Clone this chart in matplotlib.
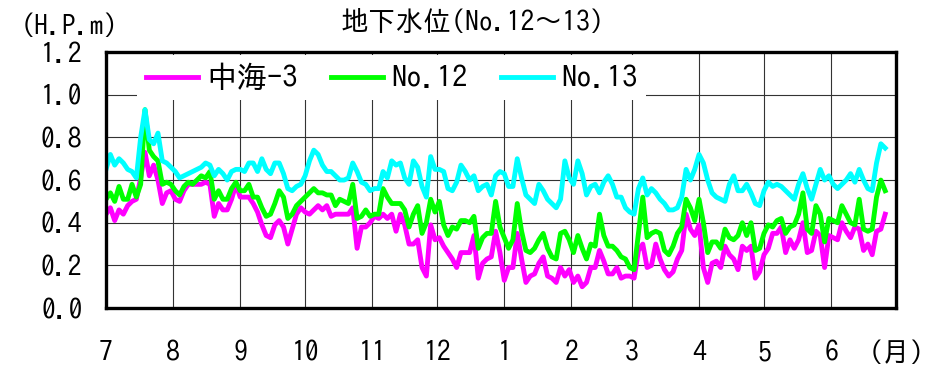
import numpy as np
import matplotlib
matplotlib.use('Agg')
import matplotlib.pyplot as plt

plt.rcParams['font.family'] = ['IPAGothic', 'Noto Sans CJK JP', 'DejaVu Sans']

# observation every 2 days, starting 1 July
step_days = 2
month_lengths = [31, 31, 30, 31, 30, 31, 31, 28, 31, 30, 31, 30]
month_labels = ['7', '8', '9', '10', '11', '12', '1', '2', '3', '4', '5', '6', '(月)']

series_names = ['中海-3', 'No.12', 'No.13']
series_colors = ['#ff00ff', '#00ff00', '#00ffff']

nakaumi3 = [
    0.44, 0.47, 0.41, 0.46, 0.44, 0.48, 0.50, 0.51, 0.61, 0.73, 0.62, 0.67, 0.60, 0.49,
    0.54, 0.55, 0.51, 0.50, 0.55, 0.58, 0.58, 0.58, 0.58, 0.59, 0.58, 0.43, 0.49,
    0.46, 0.46, 0.51, 0.58, 0.52, 0.52, 0.52, 0.49, 0.45, 0.39, 0.34, 0.33, 0.39, 0.41,
    0.38, 0.30, 0.37, 0.44, 0.47, 0.45, 0.44, 0.46, 0.48, 0.46, 0.48, 0.43, 0.44,
    0.44, 0.44, 0.44, 0.47, 0.28, 0.38, 0.38, 0.40, 0.43, 0.42, 0.44, 0.42, 0.44, 0.36,
    0.44, 0.39, 0.30, 0.30, 0.32, 0.19, 0.15, 0.39, 0.32, 0.33, 0.29, 0.26,
    0.23, 0.19, 0.26, 0.26, 0.26, 0.34, 0.14, 0.21, 0.23, 0.24, 0.36, 0.26, 0.13, 0.19,
    0.19, 0.35, 0.23, 0.12, 0.15, 0.16, 0.21, 0.24, 0.15, 0.14, 0.12, 0.19,
    0.15, 0.18, 0.12, 0.15, 0.10, 0.12, 0.19, 0.19, 0.27, 0.22, 0.16, 0.16, 0.19, 0.14,
    0.15, 0.15, 0.14, 0.27, 0.30, 0.19, 0.20, 0.30, 0.23, 0.18, 0.15, 0.17, 0.23,
    0.27, 0.44, 0.37, 0.34, 0.39, 0.19, 0.12, 0.21, 0.22, 0.19, 0.29, 0.25, 0.23, 0.18,
    0.29, 0.27, 0.29, 0.14, 0.17, 0.25, 0.28, 0.35, 0.35, 0.38, 0.26, 0.32,
    0.28, 0.32, 0.40, 0.26, 0.27, 0.36, 0.34, 0.19, 0.34, 0.33, 0.32, 0.40, 0.36, 0.33,
    0.38, 0.37, 0.27, 0.30, 0.25, 0.36, 0.37, 0.44,
]

no12 = [
    0.51, 0.54, 0.50, 0.57, 0.51, 0.51, 0.58, 0.52, 0.58, 0.93, 0.74, 0.71, 0.69, 0.58,
    0.59, 0.58, 0.55, 0.53, 0.57, 0.59, 0.58, 0.60, 0.62, 0.61, 0.64, 0.51, 0.55,
    0.51, 0.51, 0.56, 0.59, 0.55, 0.55, 0.58, 0.52, 0.52, 0.47, 0.43, 0.44, 0.49, 0.55,
    0.52, 0.42, 0.44, 0.48, 0.50, 0.52, 0.54, 0.56, 0.54, 0.54, 0.53, 0.53, 0.48,
    0.51, 0.50, 0.49, 0.58, 0.42, 0.43, 0.46, 0.43, 0.44, 0.44, 0.56, 0.52, 0.49, 0.49,
    0.49, 0.46, 0.38, 0.44, 0.48, 0.35, 0.40, 0.51, 0.45, 0.50, 0.39, 0.34,
    0.38, 0.37, 0.41, 0.41, 0.40, 0.43, 0.28, 0.33, 0.35, 0.35, 0.50, 0.38, 0.33, 0.28,
    0.32, 0.49, 0.36, 0.27, 0.26, 0.28, 0.32, 0.35, 0.28, 0.24, 0.23, 0.35,
    0.36, 0.32, 0.26, 0.34, 0.28, 0.23, 0.30, 0.29, 0.44, 0.34, 0.29, 0.29, 0.27, 0.24,
    0.23, 0.19, 0.18, 0.35, 0.52, 0.33, 0.35, 0.36, 0.35, 0.27, 0.25, 0.29, 0.35,
    0.38, 0.51, 0.47, 0.41, 0.51, 0.40, 0.26, 0.31, 0.31, 0.28, 0.37, 0.33, 0.32, 0.34,
    0.40, 0.34, 0.40, 0.27, 0.28, 0.35, 0.39, 0.38, 0.41, 0.42, 0.35, 0.38,
    0.39, 0.44, 0.54, 0.37, 0.35, 0.48, 0.44, 0.31, 0.42, 0.41, 0.40, 0.48, 0.44, 0.40,
    0.39, 0.51, 0.37, 0.36, 0.37, 0.52, 0.60, 0.55,
]

no13 = [
    0.65, 0.72, 0.67, 0.70, 0.68, 0.65, 0.64, 0.61, 0.80, 0.93, 0.79, 0.77, 0.82, 0.69,
    0.68, 0.66, 0.64, 0.61, 0.62, 0.63, 0.64, 0.65, 0.66, 0.68, 0.67, 0.62, 0.65,
    0.63, 0.60, 0.64, 0.65, 0.65, 0.64, 0.68, 0.68, 0.64, 0.70, 0.65, 0.63, 0.68, 0.68,
    0.63, 0.56, 0.55, 0.57, 0.58, 0.62, 0.69, 0.74, 0.72, 0.67, 0.64, 0.64, 0.62,
    0.60, 0.60, 0.61, 0.68, 0.64, 0.59, 0.58, 0.55, 0.56, 0.56, 0.64, 0.61, 0.69, 0.67,
    0.68, 0.61, 0.58, 0.69, 0.66, 0.57, 0.52, 0.71, 0.65, 0.65, 0.64, 0.56,
    0.55, 0.59, 0.67, 0.64, 0.60, 0.62, 0.55, 0.57, 0.58, 0.53, 0.62, 0.64, 0.63, 0.57,
    0.57, 0.70, 0.61, 0.53, 0.51, 0.49, 0.58, 0.55, 0.51, 0.49, 0.47, 0.51,
    0.69, 0.61, 0.58, 0.69, 0.63, 0.53, 0.57, 0.58, 0.54, 0.59, 0.62, 0.58, 0.52, 0.52,
    0.47, 0.45, 0.44, 0.56, 0.61, 0.53, 0.56, 0.54, 0.51, 0.49, 0.46, 0.46, 0.47,
    0.52, 0.65, 0.60, 0.65, 0.72, 0.68, 0.60, 0.54, 0.52, 0.51, 0.50, 0.58, 0.62, 0.55,
    0.55, 0.58, 0.54, 0.49, 0.48, 0.55, 0.59, 0.57, 0.58, 0.57, 0.55, 0.53,
    0.51, 0.58, 0.63, 0.56, 0.51, 0.58, 0.65, 0.60, 0.62, 0.58, 0.56, 0.58, 0.60, 0.63,
    0.59, 0.65, 0.60, 0.56, 0.55, 0.68, 0.77, 0.75,
]

days = np.arange(len(no13)) * step_days
month_starts = np.concatenate([[0], np.cumsum(month_lengths)])
levels = np.arange(0, 1.21, 0.2)

fig = plt.figure(figsize=(9.4, 3.65), dpi=100)
ax = fig.add_axes([0.1128, 0.156, 0.8404, 0.7014])

for values, name, color in zip([nakaumi3, no12, no13], series_names, series_colors):
    ax.plot(days, values, color=color, lw=3.5, label=name, solid_joinstyle='round')

ax.set_xlim(0, month_starts[-1])
ax.set_ylim(0, 1.2)
ax.set_xticks(month_starts)
ax.set_xticklabels(month_labels)
ax.set_yticks(levels)
ax.set_yticklabels(['%.1f' % v for v in levels])
ax.tick_params(axis='both', length=0, labelsize=20)
ax.tick_params(axis='x', pad=23)
ax.tick_params(axis='y', pad=17)

ax.grid(True, color='#333333', lw=0.8)
ax.set_axisbelow(True)
for sp in ax.spines.values():
    sp.set_linewidth(2.4)

# legend sits on a white patch over the top grid
leg = ax.legend(loc='upper left', bbox_to_anchor=(0.039, 0.99), ncol=3,
                fontsize=22, frameon=True, fancybox=False, edgecolor='none',
                facecolor='white', framealpha=1, handlelength=1.7,
                handletextpad=0.26, columnspacing=1.1, borderpad=0.3,
                borderaxespad=0)
for line in leg.get_lines():
    line.set_linewidth(3.5)

fig.text(0.503, 0.94, '地下水位(No.12～13)', ha='center', va='center', fontsize=20)
fig.text(0.074, 0.93, '(H.P.m)', ha='center', va='center', fontsize=20)

fig.savefig('out.png', dpi=100)
